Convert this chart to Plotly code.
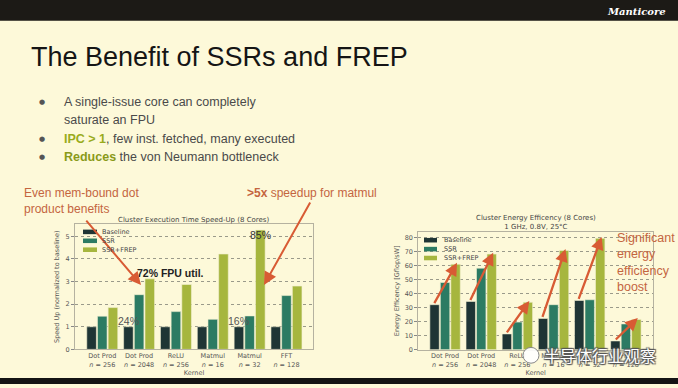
import plotly.graph_objects as go

W, H = 678, 388

kernels = ["Dot Prod<br><i>n</i> = 256", "Dot Prod<br><i>n</i> = 2048", "ReLU<br><i>n</i> = 256",
           "Matmul<br><i>n</i> = 16", "Matmul<br><i>n</i> = 32", "FFT<br><i>n</i> = 128"]
series = ["Baseline", "SSR", "SSR+FREP"]
colors = ["#1f3535", "#2c7b63", "#a6b63e"]

speedup_baseline = [1.0, 1.0, 1.0, 1.0, 1.0, 1.0]
speedup_ssr = [1.47, 2.42, 1.67, 1.33, 1.48, 2.38]
speedup_frep = [1.85, 3.12, 2.87, 4.22, 5.28, 2.80]

energy_baseline = [32.0, 34.3, 11.2, 22.2, 35.0, 6.2]
energy_ssr = [47.8, 58.0, 19.6, 32.0, 35.5, 18.3]
energy_frep = [60.8, 68.0, 33.7, 70.6, 79.2, 21.5]

speed_ticks = [0, 1, 2, 3, 4, 5]
energy_ticks = [0, 10, 20, 30, 40, 50, 60, 70, 80]

BG = "#fdf9d9"
ORANGE = "#c4653f"
ARROW = "#d85b34"
OLIVE = "#99ab1c"


def px(x):
    return x / W


def py(y):
    return 1 - y / H


fig = go.Figure()

for name, col, vals in zip(series, colors, [speedup_baseline, speedup_ssr, speedup_frep]):
    fig.add_trace(go.Bar(x=kernels, y=vals, name=name, marker_color=col,
                         marker_line=dict(width=0.6, color="#f4f0d2"),
                         showlegend=False, xaxis="x", yaxis="y"))
for name, col, vals in zip(series, colors, [energy_baseline, energy_ssr, energy_frep]):
    fig.add_trace(go.Bar(x=kernels, y=vals, name=name, marker_color=col,
                         marker_line=dict(width=0.6, color="#f4f0d2"),
                         showlegend=False, xaxis="x2", yaxis="y2"))

axis_font = dict(family="DejaVu Sans", size=6.5, color="#555555")
common_x = dict(type="category", showline=True, mirror=True, linecolor="#b5b2a0", linewidth=1,
                ticks="", tickfont=axis_font, showgrid=False, zeroline=False,
                title=dict(text="Kernel", font=dict(family="DejaVu Sans", size=6.5, color="#555555"), standoff=2))
common_y = dict(showline=True, mirror=True, linecolor="#b5b2a0", linewidth=1,
                ticks="outside", ticklen=3, tickcolor="#888888", tickfont=axis_font,
                showgrid=True, gridcolor="#9a9a8a", griddash="dot", gridwidth=0.8, zeroline=False)

fig.update_layout(
    width=W, height=H, margin=dict(l=0, r=0, t=0, b=0),
    paper_bgcolor=BG, plot_bgcolor=BG,
    barmode="group", bargap=0.13, bargroupgap=0.1,
    xaxis=dict(domain=[px(75), px(313)], range=[-0.74, 5.72], anchor="y", **common_x),
    yaxis=dict(domain=[py(353), py(226.5)], range=[0, 5.54], anchor="x", tickvals=speed_ticks,
               title=dict(text="Speed Up (normalized to baseline)",
                          font=dict(family="DejaVu Sans", size=6.5, color="#555555"), standoff=5),
               **common_y),
    xaxis2=dict(domain=[px(418.3), px(653)], range=[-0.74, 5.75], anchor="y2", **common_x),
    yaxis2=dict(domain=[py(353.3), py(234.3)], range=[0, 83.8], anchor="x2", tickvals=energy_ticks,
                title=dict(text="Energy Efficency [Gflop/sW]",
                           font=dict(family="DejaVu Sans", size=6.5, color="#555555"), standoff=4),
                **common_y),
)

shapes = [
    dict(type="rect", xref="paper", yref="paper", x0=0, x1=1, y0=py(21), y1=1,
         fillcolor="#1c1a16", line=dict(width=0), layer="above"),
    dict(type="rect", xref="paper", yref="paper", x0=0, x1=1, y0=0, y1=py(382),
         fillcolor="#141414", line=dict(width=0), layer="above"),
]

ann = []
ann.append(dict(text="<b><i>Manticore</i></b>", x=px(668), y=py(11.5), xanchor="right", yanchor="middle",
                font=dict(family="DejaVu Serif", size=10, color="#ffffff")))
ann.append(dict(text="The Benefit of SSRs and FREP", x=px(29), y=py(57.5), xanchor="left", yanchor="middle",
                font=dict(family="Liberation Sans", size=27, color="#151515")))

bullet_lines = [
    (103, True, "A single-issue core can completely"),
    (121, False, "saturate an FPU"),
    (140, True, f"<b><span style='color:{OLIVE}'>IPC &gt; 1</span></b>, few inst. fetched, many executed"),
    (158.5, True, "<b><span style='color:#8a9a18'>Reduces</span></b> the von Neumann bottleneck"),
]
for y, has_bullet, txt in bullet_lines:
    if has_bullet:
        ann.append(dict(text="●", x=px(42), y=py(y), xanchor="center", yanchor="middle",
                        font=dict(family="DejaVu Sans", size=7, color="#555555")))
    ann.append(dict(text=txt, x=px(62), y=py(y), xanchor="left", yanchor="middle",
                    font=dict(family="Liberation Sans", size=12.5, color="#4a4a4a")))

# orange callouts
ann.append(dict(text="Even mem-bound dot<br>product benefits", x=px(22), y=py(203), xanchor="left",
                yanchor="middle", align="left",
                font=dict(family="Liberation Sans", size=12, color=ORANGE)))
ann.append(dict(text="<b>&gt;5x</b> speedup for matmul", x=px(245), y=py(195), xanchor="left",
                yanchor="middle", font=dict(family="Liberation Sans", size=12, color=ORANGE)))
ann.append(dict(text="Significant<br>energy<br>efficiency<br>boost", x=px(615), y=py(265.5),
                xanchor="left", yanchor="middle", align="left",
                font=dict(family="Liberation Sans", size=12.5, color=ORANGE)))

# chart titles
ann.append(dict(text="Cluster Execution Time Speed-Up (8 Cores)", x=px(194), y=py(222), xanchor="center",
                yanchor="middle", font=dict(family="DejaVu Sans", size=7, color="#444444")))
ann.append(dict(text="Cluster Energy Efficency (8 Cores)<br>1 GHz, 0.8V, 25°C", x=px(535.5), y=py(224.5),
                xanchor="center", yanchor="middle",
                font=dict(family="DejaVu Sans", size=7, color="#444444")))

# in-chart labels for speed-up chart
ann.append(dict(text="<b>72% FPU util.</b>", xref="x", yref="y", x=1.85, y=3.38, showarrow=False,
                font=dict(family="Liberation Sans", size=10.5, color="#222222")))
ann.append(dict(text="24%", xref="x", yref="y", x=0.72, y=1.24, showarrow=False,
                font=dict(family="Liberation Sans", size=10.5, color="#555555")))
ann.append(dict(text="16%", xref="x", yref="y", x=3.69, y=1.27, showarrow=False,
                font=dict(family="Liberation Sans", size=10.5, color="#555555")))
ann.append(dict(text="85%", xref="x", yref="y", x=4.3, y=5.04, showarrow=False,
                font=dict(family="Liberation Sans", size=10.5, color="#333333")))

# callout arrows (speed-up chart)
ann.append(dict(text="", x=px(141), y=py(288), xref="paper", yref="paper", showarrow=True,
                ax=85 - 141, ay=222 - 288, arrowcolor=ARROW, arrowwidth=2, arrowhead=2, arrowsize=1.3))
ann.append(dict(text="", x=px(264), y=py(288), xref="paper", yref="paper", showarrow=True,
                ax=311 - 264, ay=204 - 288, arrowcolor=ARROW, arrowwidth=2, arrowhead=2, arrowsize=1.3))

# energy arrows: baseline -> SSR+FREP
for i, (b, f) in enumerate(zip(energy_baseline, energy_frep)):
    ann.append(dict(text="", xref="x2", yref="y2", axref="x2", ayref="y2",
                    x=i + 0.33, y=f + 1.0, ax=i - 0.32, ay=b, showarrow=True,
                    arrowcolor=ARROW, arrowwidth=2.3, arrowhead=2, arrowsize=1.1))

# manual compact legends
legend_specs = [(83, 97, 234.3, 100), (424, 437, 242.7, 442)]
for x0, x1, ytop, tx in legend_specs:
    for k, (name, col) in enumerate(zip(series, colors)):
        yy = ytop + 9 * k
        shapes.append(dict(type="rect", xref="paper", yref="paper", x0=px(x0), x1=px(x1),
                           y0=py(yy + 2.3), y1=py(yy - 2.3), fillcolor=col, line=dict(width=0)))
        ann.append(dict(text=name, x=px(tx), y=py(yy), xanchor="left", yanchor="middle",
                        font=dict(family="DejaVu Sans", size=6.5, color="#444444")))

# watermark
shapes.append(dict(type="circle", xref="paper", yref="paper", x0=px(523), x1=px(539),
                   y0=py(367), y1=py(351), fillcolor="rgba(255,255,255,0.9)",
                   line=dict(width=1, color="#888888")))
ann.append(dict(text="半导体行业观察", x=px(600), y=py(359), xanchor="center", yanchor="middle",
                font=dict(family="Noto Sans CJK SC", size=16, color="#ffffff",
                          shadow="1px 1px 1px #555, -1px -1px 1px #555, 1px -1px 1px #555, -1px 1px 1px #555")))

for a in ann:
    a.setdefault("xref", "paper")
    a.setdefault("yref", "paper")
    a.setdefault("showarrow", False)

fig.update_layout(shapes=shapes, annotations=ann)
fig.write_html("out.html", config={"displayModeBar": False},
               post_script="document.body.style.margin='0';document.body.style.padding='0';"
                           "document.body.style.overflow='hidden';")
